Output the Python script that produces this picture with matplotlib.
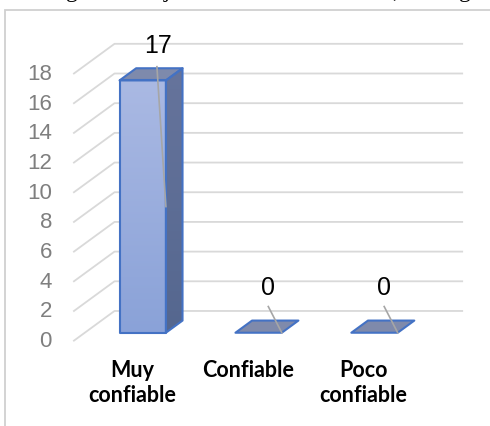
import matplotlib
matplotlib.use('Agg')
import matplotlib.pyplot as plt
from matplotlib.patches import Polygon, Rectangle
import numpy as np

categories = ['Muy\nconfiable', 'Confiable', 'Poco\nconfiable']
values = [17, 0, 0]
yticks = [0, 2, 4, 6, 8, 10, 12, 14, 16, 18]

# fake 3d: oblique depth vector (data units) for the whole floor
DEPTH = np.array([0.350, 2.0])
D_FRONT, D_BACK = 0.267, 0.677
BAR_W = 0.40

def proj(c, v, d):
    return c + d * DEPTH[0], v + d * DEPTH[1]

fig = plt.figure(figsize=(4.9, 4.27), dpi=100)
ax = fig.add_axes([0, 0, 1, 1])
ax.set_xlim(-1.138, 3.090)
ax.set_ylim(-5.75, 23.02)
ax.axis('off')

# chart frame
fig.add_artist(Rectangle((0.0102, -0.2), 1.5, 1.2 - 0.025, transform=fig.transFigure,
                         fill=False, ec='#d0d0d0', lw=1.3))

# cut off text line above the chart (only the descenders show)
for ch, xp in [('g', 72), ('j', 167), (',', 395), ('g', 465)]:
    fig.text(xp / 490, 1 + 3.5 / 427, ch, family='Liberation Serif', fontsize=17,
             ha='center', va='baseline', color='black')

# gridlines: side wall + back wall
for v in yticks:
    x0, y0 = proj(-0.5, v, 0)
    x1, y1 = proj(-0.5, v, 1)
    x2, y2 = proj(2.5, v, 1)
    ax.plot([x0, x1, x2], [y0, y1, y2], color='#d9d9d9', lw=1.3, zorder=1)
    ax.text(-0.69, v, str(v), ha='right', va='center', fontsize=16,
            color='#7f7f7f', family='Liberation Sans')

def grad_poly(pts, c_top, c_bot, z):
    poly = Polygon(pts, closed=True, fc='none', ec='none')
    ax.add_patch(poly)
    xs, ys = zip(*pts)
    grad = np.linspace(0, 1, 100)[:, None]
    ct = np.array(matplotlib.colors.to_rgb(c_top))
    cb = np.array(matplotlib.colors.to_rgb(c_bot))
    img = ct[None, None, :] * (1 - grad[..., None]) + cb[None, None, :] * grad[..., None]
    im = ax.imshow(img, extent=[min(xs), max(xs), min(ys), max(ys)], origin='upper',
                   aspect='auto', zorder=z, interpolation='bilinear')
    im.set_clip_path(poly)

edge = '#4472c4'
# label offsets and leader start offsets (data units, relative to category / value)
label_off = [(0.225, 2.93), (0.177, 3.62), (0.177, 3.62)]
leader_start = [(0.216, 1.46), (0.177, 2.3), (0.177, 2.3)]

for i, (cat, val) in enumerate(zip(categories, values)):
    l, r = i - BAR_W / 2, i + BAR_W / 2
    fl = proj(l, 0, D_FRONT); fr = proj(r, 0, D_FRONT)
    tl = proj(l, val, D_FRONT); tr = proj(r, val, D_FRONT)
    br_b = proj(r, 0, D_BACK); br_t = proj(r, val, D_BACK); bl_t = proj(l, val, D_BACK)
    if val > 0:
        front = [fl, fr, tr, tl]
        side = [fr, br_b, br_t, tr]
        top = [tl, tr, br_t, bl_t]
        grad_poly(front, '#aab9e3', '#8aa2d8', 3)
        grad_poly(side, '#66749c', '#55678f', 3)
        ax.add_patch(Polygon(top, closed=True, fc='#7e8aac', ec='none', zorder=3))
        for pts in (front, side, top):
            ax.add_patch(Polygon(pts, closed=True, fill=False, ec=edge, lw=1.5,
                                 joinstyle='round', zorder=4))
    else:
        flat = [fl, fr, br_t, bl_t]
        ax.add_patch(Polygon(flat, closed=True, fc='#7f8aab', ec=edge, lw=1.5,
                             joinstyle='round', zorder=4))
    # data label + leader line
    ax.text(i + label_off[i][0], val + label_off[i][1], str(val), ha='center',
            va='center', fontsize=18, family='Liberation Sans', color='black', zorder=6)
    ex, ey = proj(r, val / 2, D_FRONT)
    sx, sy = i + leader_start[i][0], val + leader_start[i][1]
    ax.plot([sx, ex], [sy, ey], color='#a6a6a6', lw=1.2, zorder=5)
    # category label
    ax.text(i, -1.25, cat, ha='center', va='top', fontsize=15.5, fontweight='bold',
            family='Lato', linespacing=1.25, color='black')

fig.savefig('out.png', dpi=100)
